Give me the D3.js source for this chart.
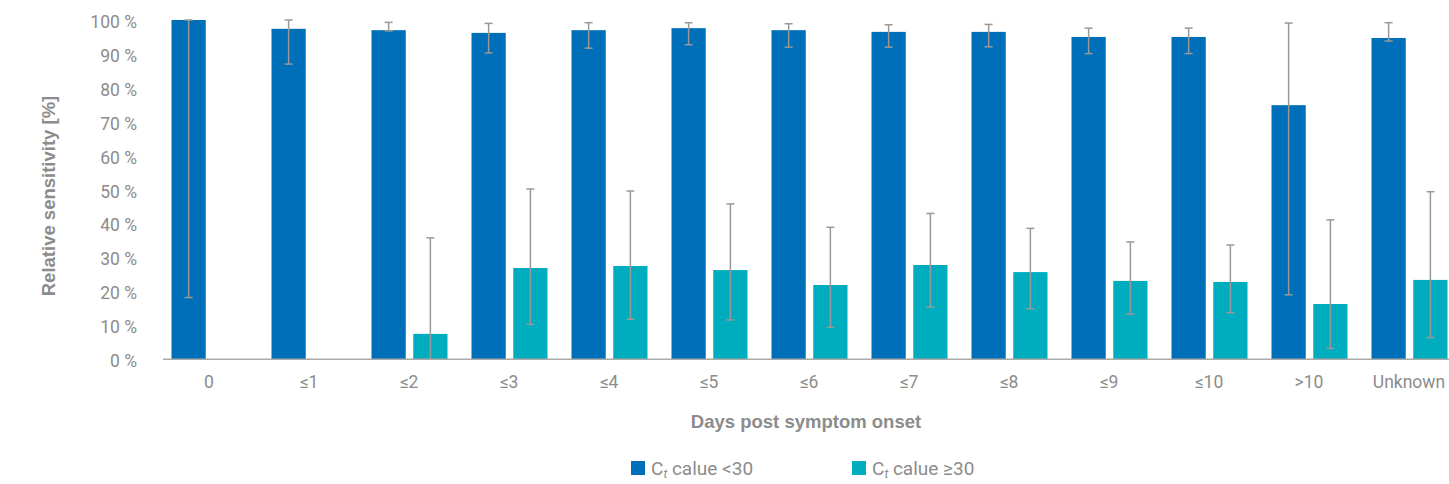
<!DOCTYPE html>
<html>
<head>
<meta charset="utf-8">
<script src="https://cdn.jsdelivr.net/npm/d3@7"></script>
<style>
  body { margin: 0; background: #fff; }
  svg { display: block; }
</style>
</head>
<body>
<div id="chart-area"></div>
<script>
// categorias do eixo X
const categories = ['0', '≤1', '≤2', '≤3', '≤4', '≤5', '≤6', '≤7', '≤8', '≤9', '≤10', '>10', 'Unknown'];

// Ct < 30 (valor, limite inferior, limite superior)
const lowCtValue = [100, 97.4, 97.0, 96.2, 97.0, 97.6, 97.0, 96.5, 96.5, 95.0, 95.0, 74.9, 94.7];
const lowCtLower = [18.2, 87.0, 96.8, 90.3, 91.7, 92.7, 92.0, 92.0, 92.1, 90.1, 90.1, 19.0, 93.8];
const lowCtUpper = [100, 100, 99.3, 99.0, 99.2, 99.2, 98.9, 98.6, 98.7, 97.6, 97.6, 99.1, 99.2];

// Ct >= 30
const highCtValue = [null, null, 7.5, 26.9, 27.5, 26.3, 21.9, 27.8, 25.7, 23.1, 22.8, 16.3, 23.4];
const highCtLower = [null, null, 0, 10.3, 11.8, 11.6, 9.4, 15.4, 14.9, 13.3, 13.7, 3.2, 6.4];
const highCtUpper = [null, null, 35.8, 50.2, 49.6, 45.8, 38.9, 43.0, 38.6, 34.6, 33.7, 41.1, 49.4];

// ticks do eixo Y
const yTicks = [0, 10, 20, 30, 40, 50, 60, 70, 80, 90, 100];

const series = [
    { key: 'low', color: '#006fb9', value: lowCtValue, lower: lowCtLower, upper: lowCtUpper, label: ' calue <30' },
    { key: 'high', color: '#00adbf', value: highCtValue, lower: highCtLower, upper: highCtUpper, label: ' calue ≥30' }
];

const width = 1449;
const height = 484;
const textColor = '#8c8c8c';

const svg = d3.select('#chart-area').append('svg')
    .attr('width', width)
    .attr('height', height);

// escala dos grupos
const x0 = d3.scaleBand()
    .domain(categories)
    .range([159, 1459]);

// escala dentro de cada grupo
const x1 = d3.scaleBand()
    .domain(series.map(s => s.key))
    .range([12.5, 88.5])
    .paddingInner(0.18);

const y = d3.scaleLinear()
    .domain([0, 100])
    .range([359.3, 20]);

// eixo Y (so os textos)
const yAxis = svg.append('g')
    .attr('transform', 'translate(137, 0)')
    .call(d3.axisLeft(y).tickValues(yTicks).tickSize(0).tickPadding(0).tickFormat(d => `${d} %`));
yAxis.select('.domain').remove();
yAxis.selectAll('text')
    .attr('fill', textColor)
    .attr('font-family', 'Roboto, sans-serif')
    .attr('font-size', '17.5px')
    .attr('dy', '0.42em');

// barras
series.forEach(s => {
    const data = categories.map((c, i) => ({ c, v: s.value[i], lo: s.lower[i], hi: s.upper[i] }))
        .filter(d => d.v !== null);

    svg.append('g').selectAll('rect')
        .data(data)
        .enter()
        .append('rect')
        .attr('x', d => x0(d.c) + x1(s.key))
        .attr('y', d => y(d.v))
        .attr('width', x1.bandwidth())
        .attr('height', d => y(0) - y(d.v))
        .attr('fill', s.color);

    // barras de erro
    const err = svg.append('g')
        .attr('stroke', '#999')
        .attr('stroke-width', 1.5)
        .selectAll('g')
        .data(data)
        .enter()
        .append('g');

    const cx = d => x0(d.c) + x1(s.key) + x1.bandwidth() / 2;

    err.append('line')
        .attr('x1', cx).attr('x2', cx)
        .attr('y1', d => y(d.lo)).attr('y2', d => y(d.hi));
    err.append('line')
        .attr('x1', d => cx(d) - 4).attr('x2', d => cx(d) + 4)
        .attr('y1', d => y(d.hi)).attr('y2', d => y(d.hi));
    err.filter(d => d.lo > 0).append('line')
        .attr('x1', d => cx(d) - 4).attr('x2', d => cx(d) + 4)
        .attr('y1', d => y(d.lo)).attr('y2', d => y(d.lo));
});

// eixo X
const xAxis = svg.append('g')
    .attr('transform', `translate(0, ${y(0)})`)
    .call(d3.axisBottom(x0).tickSize(0).tickPadding(0));
xAxis.select('.domain').remove();
xAxis.append('line')
    .attr('x1', 163).attr('x2', width)
    .attr('stroke', '#aaa')
    .attr('stroke-width', 1.5);
xAxis.selectAll('text')
    .attr('fill', textColor)
    .attr('font-family', 'Roboto, sans-serif')
    .attr('font-size', '17.5px')
    .attr('y', 29)
    .attr('dy', 0);

// titulo do eixo X
svg.append('text')
    .attr('x', 806)
    .attr('y', 428)
    .attr('text-anchor', 'middle')
    .attr('fill', textColor)
    .attr('font-family', 'Liberation Sans, Arial, sans-serif')
    .attr('font-weight', 'bold')
    .attr('font-size', '18.5px')
    .text('Days post symptom onset');

// titulo do eixo Y
svg.append('text')
    .attr('transform', 'translate(55, 196) rotate(-90)')
    .attr('text-anchor', 'middle')
    .attr('fill', textColor)
    .attr('font-family', 'Liberation Sans, Arial, sans-serif')
    .attr('font-weight', 'bold')
    .attr('font-size', '18.5px')
    .text('Relative sensitivity [%]');

// legenda
const legendX = [631, 852];
const legend = svg.append('g').selectAll('g')
    .data(series)
    .enter()
    .append('g')
    .attr('transform', (d, i) => `translate(${legendX[i]}, 461)`);

legend.append('rect')
    .attr('width', 14)
    .attr('height', 14)
    .attr('fill', d => d.color);

const legendText = legend.append('text')
    .attr('x', 20)
    .attr('y', 14)
    .attr('fill', textColor)
    .attr('font-family', 'Roboto, sans-serif')
    .attr('font-size', '19px');
legendText.append('tspan').text('C');
legendText.append('tspan')
    .attr('font-size', '12px')
    .attr('font-style', 'italic')
    .attr('dy', 3)
    .text('t');
legendText.append('tspan')
    .attr('dy', -3)
    .text(d => d.label);
</script>
</body>
</html>
